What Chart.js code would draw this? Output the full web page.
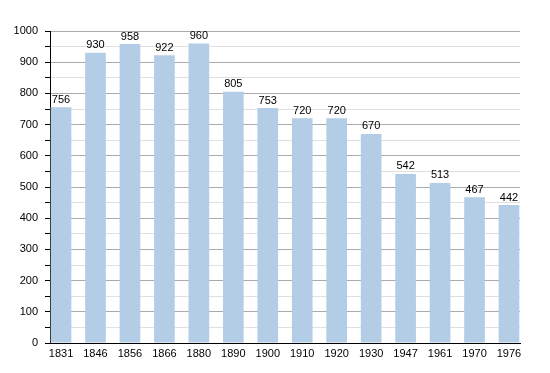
<!DOCTYPE html>
<html>
<head>
<meta charset="utf-8">
<script src="https://cdn.jsdelivr.net/npm/chart.js@4"></script>
<style>
  html, body { margin: 0; padding: 0; background: #fff; }
  #wrap { width: 550px; height: 373px; }
</style>
</head>
<body>
<div id="wrap"><canvas id="myChart"></canvas></div>
<script>
var years = ['1831', '1846', '1856', '1866', '1880', '1890', '1900', '1910', '1920', '1930', '1947', '1961', '1970', '1976'];
var population = [756, 930, 958, 922, 960, 805, 753, 720, 720, 670, 542, 513, 467, 442];

Chart.defaults.font.family = '"Liberation Sans", Arial, sans-serif';
Chart.defaults.font.size = 11;
Chart.defaults.color = '#000';

// value labels above each bar
const barLabels = {
  id: 'barLabels',
  afterDatasetsDraw(chart) {
    const ctx = chart.ctx;
    const meta = chart.getDatasetMeta(0);
    ctx.save();
    ctx.font = '11px "Liberation Sans", Arial, sans-serif';
    ctx.fillStyle = '#000';
    ctx.textAlign = 'center';
    ctx.textBaseline = 'bottom';
    meta.data.forEach((bar, i) => {
      ctx.fillText(population[i], bar.x, bar.y - 2);
    });
    ctx.restore();
  }
};

var ctx = document.getElementById('myChart');
var myChart = new Chart(ctx, {
  type: 'bar',
  data: {
    datasets: [{
      data: population.map((v, i) => ({ x: i, y: v })),
      backgroundColor: '#b3cde6',
      categoryPercentage: 1,
      barPercentage: 0.6
    }]
  },
  options: {
    responsive: true,
    maintainAspectRatio: false,
    animation: false,
    layout: { padding: { left: 0, top: 31, right: 30, bottom: 0 } },
    plugins: {
      legend: { display: false },
      tooltip: { enabled: false }
    },
    scales: {
      x: {
        type: 'linear',
        offset: false,
        min: -0.32,
        max: 13.32,
        afterBuildTicks: (scale) => { scale.ticks = years.map((_, i) => ({ value: i })); },
        afterFit: (scale) => { scale.height = 30; },
        grid: { display: false, drawTicks: false, offset: false },
        border: { color: '#000', width: 1 },
        ticks: {
          padding: 4,
          maxRotation: 0,
          autoSkip: false,
          callback: (v) => years[v] !== undefined ? years[v] : ''
        }
      },
      y: {
        min: 0,
        max: 1000,
        afterFit: (scale) => { scale.width = 50; },
        border: { color: '#000', width: 1 },
        grid: {
          color: (c) => c.tick && c.tick.value % 100 === 0 ? '#aaaaaa' : '#e0e0e0',
          tickColor: '#000',
          tickLength: 5
        },
        ticks: {
          stepSize: 50,
          padding: 7,
          autoSkip: false,
          callback: (v) => v % 100 === 0 ? v : ''
        }
      }
    }
  },
  plugins: [barLabels]
});
</script>
</body>
</html>
